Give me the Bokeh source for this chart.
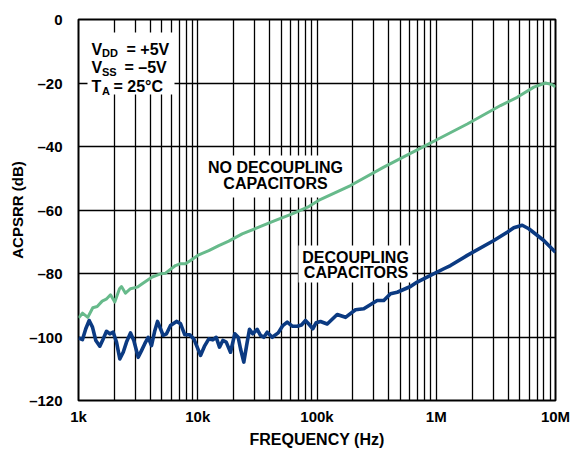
from bokeh.plotting import figure
from bokeh.models import Range1d, FixedTicker, Label, BoxAnnotation
from bokeh.embed import file_html
from bokeh.resources import INLINE

# ---- data ----
freq_no_decoup = [1000, 1080, 1197, 1318, 1435, 1580, 1708, 1855, 2015, 2207, 2294, 2478,
                  2730, 3107, 3422, 4150, 4872, 5366, 6506, 7165, 7892, 8693, 10200, 12380,
                  15020, 18200, 23590, 32500, 44870, 61940, 85350, 103000, 191000, 363000,
                  812000, 1019000, 1820000, 3459000, 4775000, 6578000, 8241000, 9381000,
                  10000000]
acpsrr_no_decoup = [-94.0, -92.5, -93.8, -90.8, -90.4, -88.7, -88.1, -86.7, -89.0, -84.8,
                    -84.1, -86.2, -84.8, -84.3, -83.2, -81.1, -80.1, -79.9, -77.5, -76.9,
                    -76.9, -75.9, -74.1, -72.8, -71.2, -69.8, -67.5, -65.4, -63.3, -61.2,
                    -58.9, -57.0, -52.3, -46.5, -39.7, -37.8, -32.9, -27.1, -24.5, -21.3,
                    -20.0, -20.5, -21.3]

freq_decoup = [1000, 1080, 1151, 1229, 1310, 1397, 1509, 1611, 1717, 1830, 1954, 2083,
               2220, 2371, 2527, 2730, 2909, 3168, 3376, 3597, 3841, 4095, 4364, 4598,
               4870, 5132, 5470, 5909, 6634, 7167, 7788, 8577, 9267, 9895, 10546, 11460,
               12380, 13370, 14280, 15220, 16230, 17330, 18820, 20450, 21840, 22830, 24330,
               25980, 27160, 28950, 31510, 33600, 35800, 38230, 42110, 47280, 51680, 56250,
               61940, 68230, 74130, 80090, 85340, 92210, 98470, 106990, 121800, 147600,
               173400, 210300, 246700, 319600, 363000, 413300, 470500, 608200, 692000,
               895300, 1157000, 1316000, 1820000, 3040000, 3936000, 4467000, 5260000,
               5970000, 7980000, 10000000]
acpsrr_decoup = [-100.3, -100.8, -97.4, -94.8, -96.9, -101.1, -102.9, -100.6, -98.2, -99.0,
                 -98.5, -101.6, -106.9, -104.8, -101.6, -98.7, -101.1, -106.4, -104.3, -102.1,
                 -100.1, -102.7, -98.0, -95.1, -97.4, -99.5, -99.0, -96.4, -95.1, -95.8,
                 -99.3, -99.3, -100.6, -103.2, -105.8, -102.7, -100.6, -100.9, -100.1, -103.2,
                 -101.1, -101.6, -104.8, -99.0, -100.1, -103.7, -107.9, -101.6, -97.6, -99.0,
                 -97.6, -99.5, -100.1, -98.5, -100.1, -98.7, -96.4, -95.3, -96.6, -96.6,
                 -96.2, -94.8, -95.9, -97.4, -95.5, -95.1, -95.9, -92.9, -93.8, -91.4,
                 -91.1, -88.5, -88.5, -86.4, -85.9, -84.1, -82.7, -80.6, -78.5, -77.5,
                 -74.3, -69.6, -67.0, -65.6, -64.8, -65.9, -69.6, -73.3]

x_major_ticks = [1e3, 1e4, 1e5, 1e6, 1e7]
x_tick_labels = ["1k", "10k", "100k", "1M", "10M"]
y_major_ticks = [-120, -100, -80, -60, -40, -20, 0]
y_tick_labels = ["\u2013120", "\u2013100", "\u201380", "\u201360", "\u201340", "\u201320", "0"]

FONT = "Liberation Sans"
GREEN = "#67ba8b"
BLUE = "#0b3a82"

# page-pixel -> data helpers (for placing annotations only)
def fx(page_x):
    return 1e3 * 10 ** ((page_x - 78) / 119.25)

def fy(page_y):
    return -(page_y - 19) * 120 / 381

p = figure(x_axis_type="log", x_range=Range1d(1e3, 1e7), y_range=Range1d(-120, 0),
           width=584, height=454,
           min_border_left=78, min_border_right=29, min_border_top=19, min_border_bottom=54,
           output_backend="svg", toolbar_location=None,
           background_fill_color="white", border_fill_color="white")

minor = [m * 10 ** e for e in range(3, 7) for m in range(2, 10)]
p.xaxis.ticker = FixedTicker(ticks=x_major_ticks, minor_ticks=minor)
p.yaxis.ticker = FixedTicker(ticks=y_major_ticks, minor_ticks=[])
p.xaxis.major_label_overrides = {t: l for t, l in zip(x_major_ticks, x_tick_labels)}
p.yaxis.major_label_overrides = {t: l for t, l in zip(y_major_ticks, y_tick_labels)}

for ax in (p.xaxis, p.yaxis):
    ax.axis_line_color = None
    ax.major_tick_line_color = None
    ax.minor_tick_line_color = None
    ax.major_label_text_font = FONT
    ax.major_label_text_font_style = "bold"
    ax.major_label_text_font_size = "15px"
    ax.major_label_text_color = "black"
    ax.axis_label_text_font = FONT
    ax.axis_label_text_font_style = "bold"
    ax.axis_label_text_color = "black"

p.xaxis.axis_label = "FREQUENCY (Hz)"
p.xaxis.axis_label_text_font_size = "16px"
p.xaxis.major_label_standoff = 1
p.xaxis.axis_label_standoff = 3
p.yaxis.axis_label = "ACPSRR (dB)"
p.yaxis.axis_label_text_font_size = "15px"
p.yaxis.major_label_standoff = 10
p.yaxis.axis_label_standoff = 0

p.xgrid.grid_line_color = "black"
p.xgrid.grid_line_width = 1.3
p.xgrid.minor_grid_line_color = "black"
p.xgrid.minor_grid_line_width = 1.3
p.ygrid.grid_line_color = "black"
p.ygrid.grid_line_width = 1.3
p.outline_line_color = "black"
p.outline_line_width = 2

# white boxes behind annotations (break the grid)
for l, r, t, b in [(87, 174, 32, 94), (200, 350, 155, 197), (298, 412, 245, 282)]:
    p.add_layout(BoxAnnotation(left=fx(l), right=fx(r), top=fy(t), bottom=fy(b),
                               fill_color="white", fill_alpha=1.0, line_color=None,
                               level="underlay"))

p.line(freq_no_decoup, acpsrr_no_decoup, line_color=GREEN, line_width=3, line_join="round")
p.line(freq_decoup, acpsrr_decoup, line_color=BLUE, line_width=3.6, line_join="round")

def lab(px, py, text, size="16px", align="left", baseline="alphabetic"):
    p.add_layout(Label(x=fx(px), y=fy(py), text=text, text_font=FONT,
                       text_font_style="bold", text_font_size=size, text_color="black",
                       text_align=align, text_baseline=baseline))

# condition box
lab(91, 48.5, "V")
lab(101.5, 52.5, "DD", size="11px")
lab(126, 48.5, "= +5V")
lab(91, 67, "V")
lab(101.5, 71, "SS", size="11px")
lab(124, 67, "= \u20135V")
lab(91, 86, "T")
lab(101.5, 90.5, "A", size="11px")
lab(113, 86, "= 25\u00b0C")

# curve labels
lab(275, 166.7, "NO DECOUPLING", align="center", baseline="middle")
lab(275, 182.7, "CAPACITORS", align="center", baseline="middle")
lab(355, 256.7, "DECOUPLING", align="center", baseline="middle")
lab(355.5, 272.3, "CAPACITORS", align="center", baseline="middle")

open("out.html", "w").write(file_html(p, INLINE))
